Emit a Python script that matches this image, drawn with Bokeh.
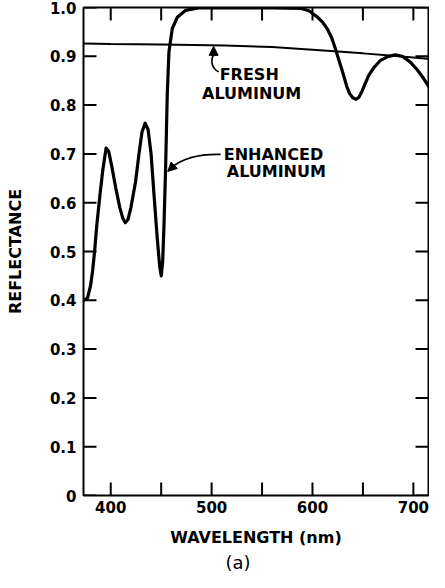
import numpy as np
from bokeh.plotting import figure
from bokeh.models import Range1d, FixedTicker, Label, Arrow, NormalHead, Title
from bokeh.embed import file_html
from bokeh.resources import INLINE

# ---- data ----
wavelength_enhanced = [373.5, 377, 380, 382, 384, 386, 389, 392, 395.4, 398, 401, 405, 409, 412,
                       414.4, 417, 420, 424.6, 428, 431, 434.1, 437, 440, 442.9, 446, 448.5, 450.1,
                       451.5, 452.7, 454.4, 456, 457.7, 461, 466, 474, 487, 520, 560, 589, 597, 605,
                       610, 615, 619, 622, 625, 628, 631, 634, 637, 640, 643, 646, 649, 652, 656,
                       661, 667, 674, 682, 689, 697, 704, 710, 716, 720]
reflectance_enhanced = [0.40, 0.405, 0.43, 0.46, 0.50, 0.55, 0.61, 0.665, 0.712, 0.705, 0.675, 0.63,
                        0.59, 0.568, 0.559, 0.565, 0.59, 0.643, 0.70, 0.745, 0.763, 0.75, 0.70, 0.616,
                        0.53, 0.47, 0.45, 0.48, 0.548, 0.671, 0.82, 0.909, 0.957, 0.98, 0.994, 0.999,
                        0.999, 0.999, 0.998, 0.993, 0.98, 0.97, 0.955, 0.938, 0.92, 0.90, 0.88, 0.86,
                        0.838, 0.823, 0.815, 0.812, 0.816, 0.828, 0.843, 0.862, 0.877, 0.891, 0.899,
                        0.903, 0.90, 0.888, 0.872, 0.855, 0.836, 0.822]
wavelength_fresh = [373.5, 400, 450, 513, 560, 611, 650, 680, 714, 720]
reflectance_fresh = [0.926, 0.925, 0.924, 0.922, 0.919, 0.912, 0.906, 0.901, 0.895, 0.893]

x_ticks = [400, 500, 600, 700]
x_minor_ticks = [450, 550, 650]
y_ticks = [0, 0.1, 0.2, 0.3, 0.4, 0.5, 0.6, 0.7, 0.8, 0.9, 1.0]
y_tick_labels = ["0", "0.1", "0.2", "0.3", "0.4", "0.5", "0.6", "0.7", "0.8", "0.9", "1.0"]

X_START, X_END = 373, 715
Y_START, Y_END = 0, 1.0
FONT = "DejaVu Sans"
TICK_LEN = 13

p = figure(width=429, height=572,
           x_range=Range1d(X_START, X_END), y_range=Range1d(Y_START, Y_END),
           output_backend="svg", toolbar_location=None,
           min_border_left=83, min_border_right=1, min_border_top=7, min_border_bottom=0)
p.grid.visible = False
p.outline_line_color = "black"
p.outline_line_width = 2
p.background_fill_color = "white"
p.border_fill_color = "white"

for ax in (p.xaxis[0], p.yaxis[0]):
    ax.axis_line_color = None
    ax.major_tick_in = 0
    ax.major_tick_out = 0
    ax.minor_tick_in = 0
    ax.minor_tick_out = 0
    ax.major_label_text_font = FONT
    ax.major_label_text_font_style = "bold"
    ax.major_label_text_font_size = "15px"
    ax.major_label_text_line_height = 1.0
    ax.major_label_text_color = "black"
    ax.axis_label_text_font = FONT
    ax.axis_label_text_font_style = "bold"
    ax.axis_label_text_font_size = "16px"
    ax.axis_label_text_line_height = 1.0
    ax.axis_label_text_color = "black"

xa = p.xaxis[0]
xa.ticker = FixedTicker(ticks=x_ticks, minor_ticks=x_minor_ticks)
xa.axis_label = "WAVELENGTH (nm)"
xa.major_label_standoff = 5
xa.axis_label_standoff = 12

ya = p.yaxis[0]
ya.ticker = FixedTicker(ticks=y_ticks, minor_ticks=[])
ya.major_label_overrides = {t: l for t, l in zip(y_ticks, y_tick_labels)}
ya.axis_label = "REFLECTANCE"
ya.major_label_standoff = 7
ya.axis_label_standoff = 22

# inward tick marks on all four sides, drawn from the tick arrays
x_all = sorted(x_ticks + x_minor_ticks)
tick_style = dict(length=TICK_LEN, length_units="screen", line_width=2, color="black")
p.ray(x=x_all, y=[Y_START] * len(x_all), angle=np.pi / 2, **tick_style)
p.ray(x=x_all, y=[Y_END] * len(x_all), angle=-np.pi / 2, **tick_style)
p.ray(x=[X_START] * len(y_ticks), y=y_ticks, angle=0, **tick_style)
p.ray(x=[X_END] * len(y_ticks), y=y_ticks, angle=np.pi, **tick_style)

# curves
p.line(wavelength_fresh, reflectance_fresh, line_width=2, color="black")
p.line(wavelength_enhanced, reflectance_enhanced, line_width=3.2, color="black",
       line_join="round", line_cap="round")

# annotations
for txt, x, y in [("FRESH", 508, 0.862), ("ALUMINUM", 490.5, 0.823),
                  ("ENHANCED", 512, 0.699), ("ALUMINUM", 515, 0.664)]:
    p.add_layout(Label(x=x, y=y, text=txt, text_font=FONT, text_font_size="16px",
                       text_font_style="bold", text_baseline="middle", text_align="left",
                       text_color="black"))

fresh_tip = float(np.interp(502, wavelength_fresh, reflectance_fresh))
p.bezier(x0=[507, 509], y0=[0.868, 0.699], x1=[502, 460], y1=[0.905, 0.672],
         cx0=[498, 490], cy0=[0.878, 0.700], cx1=[500, 472], cy1=[0.895, 0.692],
         line_width=1.6, color="black")
p.add_layout(Arrow(end=NormalHead(size=9, fill_color="black", line_color="black", line_width=1),
                   x_start=502, y_start=0.900, x_end=502, y_end=fresh_tip - 0.002,
                   line_width=1.6, line_color="black"))
p.add_layout(Arrow(end=NormalHead(size=9, fill_color="black", line_color="black", line_width=1),
                   x_start=461, y_start=0.673, x_end=456.5, y_end=0.664,
                   line_width=1.6, line_color="black"))

# panel caption below the axis title
p.add_layout(Title(text="(a)", align="left", offset=142, text_font=FONT,
                   text_font_size="18px", text_font_style="normal", text_color="black",
                   standoff=0), "below")

open("out.html", "w").write(file_html(p, INLINE))
